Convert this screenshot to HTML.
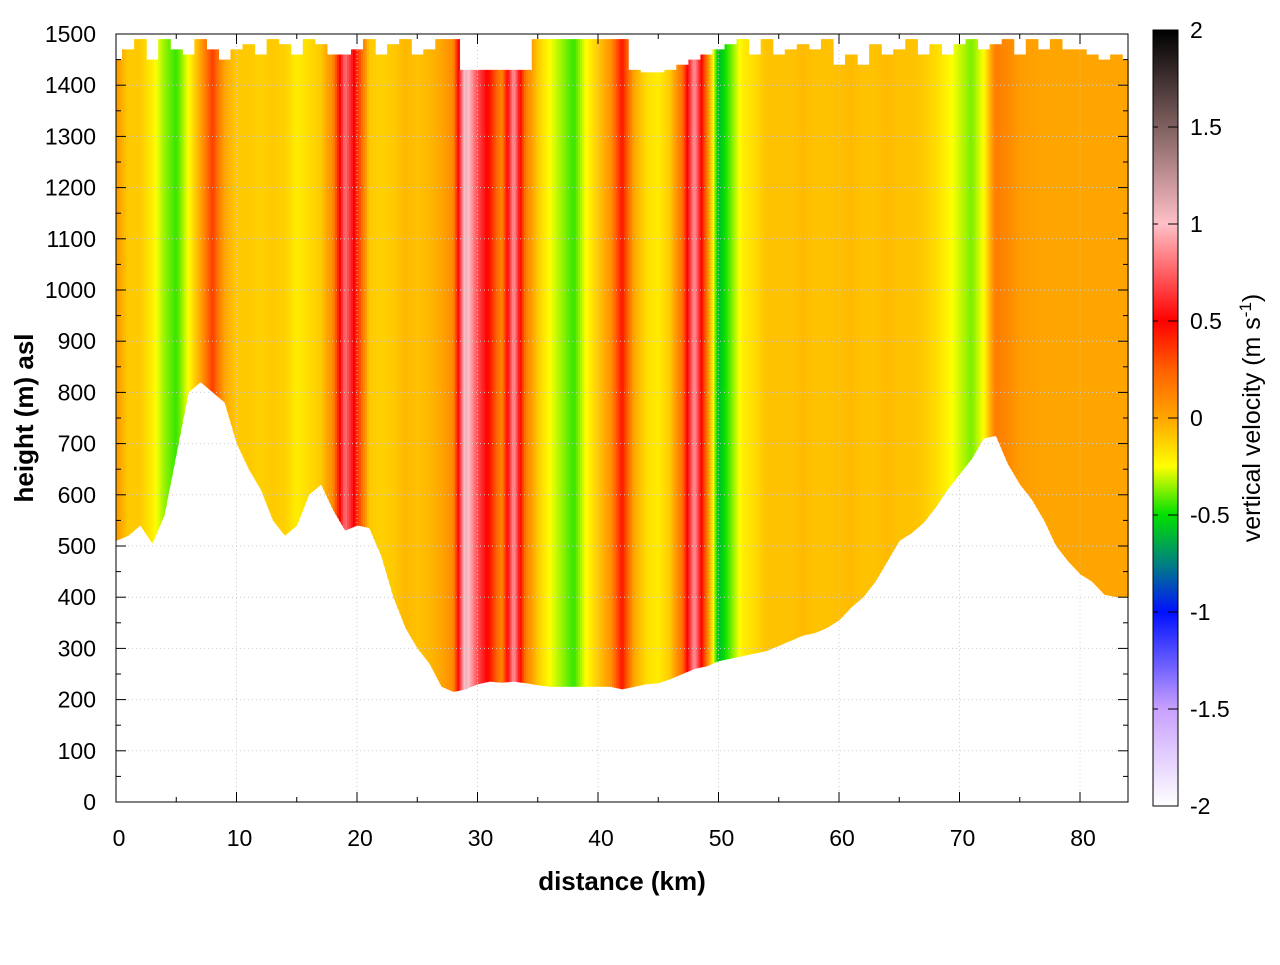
<!DOCTYPE html>
<html><head><meta charset="utf-8"><style>
body{margin:0;background:#fff;}
svg{font-family:"Liberation Sans",sans-serif;}
</style></head><body>
<svg id="chart" width="1280" height="960">
<defs>
<linearGradient id="cbgrad" x1="0" y1="1" x2="0" y2="0">
<stop offset="0" stop-color="#ffffff"/>
<stop offset="0.125" stop-color="#c8a0ff"/>
<stop offset="0.25" stop-color="#0010ff"/>
<stop offset="0.3125" stop-color="#008080"/>
<stop offset="0.375" stop-color="#00e000"/>
<stop offset="0.4375" stop-color="#ffff00"/>
<stop offset="0.5" stop-color="#ffa500"/>
<stop offset="0.5625" stop-color="#ff6000"/>
<stop offset="0.625" stop-color="#ff0000"/>
<stop offset="0.75" stop-color="#ffc0c8"/>
<stop offset="0.875" stop-color="#806060"/>
<stop offset="1" stop-color="#000000"/>
</linearGradient>
</defs>
<g id="field"></g>
<g id="grid"></g>
<rect x="116" y="34" width="1012" height="768" fill="none" stroke="#000" stroke-width="1"/>
<g id="axes"></g>
<text x="622" y="890" font-size="26" font-weight="bold" text-anchor="middle">distance (km)</text>
<text transform="translate(33,418) rotate(-90)" font-size="26" font-weight="bold" text-anchor="middle">height (m) asl</text>
<rect x="1153" y="30" width="25" height="776" fill="url(#cbgrad)" stroke="#000" stroke-width="1"/>
<g id="cbaxis"></g>
<text transform="translate(1260,418) rotate(-90)" font-size="25" text-anchor="middle">vertical velocity (m s<tspan dy="-9" font-size="17">-1</tspan><tspan dy="9">)</tspan></text>
</svg>
<script>
const NS="http://www.w3.org/2000/svg";
const distances=[0,1,2,3,4,5,6,7,8,9,10,11,12,13,14,15,16,17,18,19,20,21,22,23,24,25,26,27,28,29,30,31,32,33,34,35,36,37,38,39,40,41,42,43,44,45,46,47,48,49,50,51,52,53,54,55,56,57,58,59,60,61,62,63,64,65,66,67,68,69,70,71,72,73,74,75,76,77,78,79,80,81,82,83,84];
const terrain=[510,520,540,505,560,680,800,820,800,780,700,650,610,550,520,540,600,620,570,530,540,535,480,400,340,300,270,225,215,220,230,235,233,235,232,228,225,225,225,225,225,225,220,225,230,232,240,250,260,265,275,280,285,290,295,305,315,325,330,340,355,380,400,430,470,510,525,545,575,610,640,670,710,715,660,620,590,550,500,470,445,430,405,400,400];
const tops=[1450,1470,1490,1450,1490,1470,1460,1490,1470,1450,1470,1480,1460,1490,1480,1460,1490,1480,1460,1460,1470,1490,1460,1480,1490,1460,1470,1490,1490,1430,1430,1430,1430,1430,1430,1490,1490,1490,1490,1490,1490,1490,1490,1430,1425,1425,1430,1440,1450,1460,1470,1480,1490,1460,1490,1460,1470,1480,1470,1490,1440,1460,1440,1480,1460,1470,1490,1460,1480,1460,1480,1490,1470,1480,1490,1460,1490,1470,1490,1470,1470,1460,1450,1460,1450];
const velocity=[0.05,-0.1,-0.1,-0.2,-0.35,-0.45,-0.25,0,0.35,0,-0.1,-0.1,-0.12,-0.1,-0.12,-0.2,-0.15,-0.1,0.1,0.8,0.4,-0.1,-0.12,-0.1,-0.05,-0.08,-0.05,0,0.1,1.1,0.7,0.45,0.1,0.9,0.15,-0.1,-0.25,-0.35,-0.45,-0.25,-0.1,0.05,0.45,0,-0.15,-0.2,-0.1,0.2,0.9,0.2,-0.6,-0.4,-0.2,-0.15,-0.08,-0.08,-0.08,-0.06,-0.08,-0.08,-0.07,-0.06,-0.08,-0.08,-0.06,-0.08,-0.08,-0.1,-0.15,-0.22,-0.3,-0.38,-0.25,0.15,0.1,0.03,0.02,0,0,0,0,0,0,0,0];
const xTicks=[0,10,20,30,40,50,60,70,80];
const yTicks=[0,100,200,300,400,500,600,700,800,900,1000,1100,1200,1300,1400,1500];
const cbTicks=[-2,-1.5,-1,-0.5,0,0.5,1,1.5,2];
const xS=d=>116+d*12.05;
const yS=h=>802-h*0.512;
const cbS=v=>418-v*194;
const stops=[[-2,[255,255,255]],[-1.5,[200,160,255]],[-1,[0,16,255]],[-0.75,[0,128,128]],[-0.5,[0,224,0]],[-0.25,[255,255,0]],[0,[255,165,0]],[0.25,[255,96,0]],[0.5,[255,0,0]],[1,[255,192,200]],[1.5,[128,96,96]],[2,[0,0,0]]];
function col(v){v=Math.max(-2,Math.min(2,v));for(let i=0;i<stops.length-1;i++){const a=stops[i],b=stops[i+1];if(v<=b[0]){const t=(v-a[0])/(b[0]-a[0]);return 'rgb('+a[1].map((c,k)=>Math.round(c+(b[1][k]-c)*t)).join(',')+')';}}return 'rgb(0,0,0)';}
const field=document.getElementById('field');
const SUB=6;
for(let i=0;i<distances.length-1;i++){
 for(let s=0;s<SUB;s++){
  const t0=s/SUB,t1=(s+1)/SUB,tm=(s+0.5)/SUB;
  const d0=distances[i]+(distances[i+1]-distances[i])*t0, d1=distances[i]+(distances[i+1]-distances[i])*t1;
  const b0=terrain[i]+(terrain[i+1]-terrain[i])*t0, b1=terrain[i]+(terrain[i+1]-terrain[i])*t1;
  const top=tm<0.5?tops[i]:tops[i+1];
  const v=velocity[i]+(velocity[i+1]-velocity[i])*tm;
  const p=document.createElementNS(NS,'polygon');
  p.setAttribute('points',`${xS(d0)},${yS(b0)} ${xS(d0)},${yS(top)} ${xS(d1)+0.6},${yS(top)} ${xS(d1)+0.6},${yS(b1)}`);
  p.setAttribute('fill',col(v));
  
  
  field.appendChild(p);
 }
}
const grid=document.getElementById('grid'), axes=document.getElementById('axes');
function line(g,x1,y1,x2,y2,st,dash,name){const l=document.createElementNS(NS,'line');l.setAttribute('x1',x1);l.setAttribute('y1',y1);l.setAttribute('x2',x2);l.setAttribute('y2',y2);l.setAttribute('stroke',st);if(dash)l.setAttribute('stroke-dasharray',dash);


g.appendChild(l);}
function text(g,x,y,s,anchor,name,size){const t=document.createElementNS(NS,'text');t.setAttribute('x',x);t.setAttribute('y',y);t.setAttribute('font-size',size||23);t.setAttribute('text-anchor',anchor);t.textContent=s;


g.appendChild(t);}
xTicks.forEach(v=>{const x=xS(v);line(grid,x,34,x,802,'#ccc','1,3','x-grid-line');line(axes,x,802,x,792,'#000',null,'x-tick');line(axes,x,34,x,44,'#000',null,'x-tick');text(axes,x+3,846,String(v),'middle','x-tick-label');});
xTicks.forEach(v=>{const x=xS(v+5);if(v+5<84){line(axes,x,802,x,797,'#000',null,'x-minor-tick');line(axes,x,34,x,39,'#000',null,'x-minor-tick');}});
yTicks.forEach(v=>{const y=yS(v);line(grid,116,y,1128,y,'#ccc','1,3','y-grid-line');line(axes,116,y,126,y,'#000',null,'y-tick');line(axes,1128,y,1118,y,'#000',null,'y-tick');text(axes,96,y+8,String(v),'end','y-tick-label');
 if(v<1500){const ym=yS(v+50);line(axes,116,ym,121,ym,'#000',null,'y-minor-tick');line(axes,1128,ym,1123,ym,'#000',null,'y-minor-tick');}});
const cb=document.getElementById('cbaxis');
cbTicks.forEach(v=>{const y=cbS(v);line(cb,1168,y,1178,y,'#000',null,'colorbar-tick');line(cb,1153,y,1158,y,'#000',null,'colorbar-tick');text(cb,1190,y+8,String(v),'start','colorbar-tick-label');});
</script>
</body></html>
